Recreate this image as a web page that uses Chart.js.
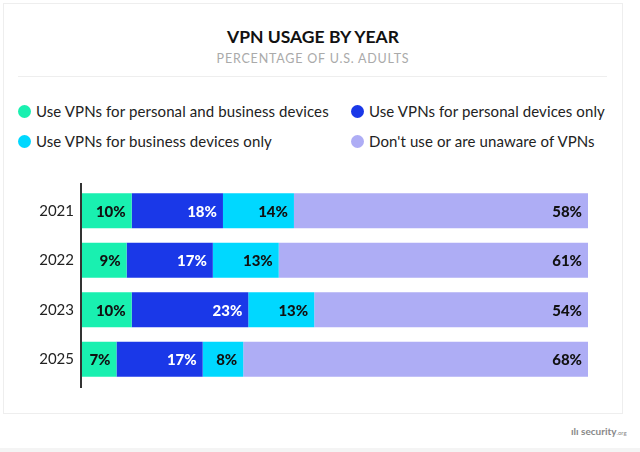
<!DOCTYPE html>
<html>
<head>
<meta charset="utf-8">
<script src="https://cdn.jsdelivr.net/npm/chart.js@4"></script>
<style>
  html, body { margin: 0; padding: 0; background: #fff; }
  body { width: 640px; height: 452px; position: relative; overflow: hidden; font-family: Lato, sans-serif; color: #222; }
  .card { position: absolute; left: 3px; top: 3px; width: 620px; height: 411px; border: 1px solid #eee; box-sizing: border-box; }
  .title { position: absolute; left: 0; width: 626px; top: 26px; text-align: center; font-size: 17.5px; font-weight: bold; color: #111; }
  .subtitle { position: absolute; left: 0; width: 626px; top: 51px; text-align: center; font-size: 12.5px; color: #aaa; letter-spacing: 0.8px; }
  .sep { position: absolute; left: 18px; width: 589px; top: 76px; height: 1px; background: #eee; }
  .leg { position: absolute; font-size: 15px; color: #222; white-space: nowrap; letter-spacing: 0.1px; }
  .leg i { display: inline-block; width: 13px; height: 13px; border-radius: 50%; vertical-align: -1px; margin-right: 5px; }
  .logo { position: absolute; left: 571px; top: 425px; font-size: 10px; font-weight: bold; color: #888; }
  .logo small { font-size: 6px; font-weight: normal; }
  .strip { position: absolute; left: 0; top: 448px; width: 640px; height: 4px; background: #f4f4f4; }
  #wrap { position: absolute; left: 0; top: 170px; width: 640px; height: 230px; }
</style>
</head>
<body>
<div class="card"></div>
<div class="title">VPN USAGE BY YEAR</div>
<div class="subtitle">PERCENTAGE OF U.S. ADULTS</div>
<div class="sep"></div>
<div id="legend"></div>
<div id="wrap"><canvas id="chart"></canvas></div>
<div class="logo">ılı security<small>.org</small></div>
<div class="strip"></div>
<script>
const years = ['2021', '2022', '2023', '2025'];
const seriesNames = [
  'Use VPNs for personal and business devices',
  'Use VPNs for personal devices only',
  'Use VPNs for business devices only',
  "Don't use or are unaware of VPNs"
];
const bothDevices = [10, 9, 10, 7];
const personalOnly = [18, 17, 23, 17];
const businessOnly = [14, 13, 13, 8];
const noVpn = [58, 61, 54, 68];
const colors = ['#19f0b0', '#1a38e8', '#00d8ff', '#aeadf5'];
const labelColors = ['#111', '#fff', '#111', '#111'];

// legend, 2x2 grid
const legendPos = [[18, 102], [351, 102], [18, 132], [351, 132]];
const legendEl = document.getElementById('legend');
seriesNames.forEach((name, i) => {
  const d = document.createElement('div');
  d.className = 'leg';
  d.style.left = legendPos[i][0] + 'px';
  d.style.top = legendPos[i][1] + 'px';
  d.innerHTML = '<i style="background:' + colors[i] + '"></i>' + name;
  legendEl.appendChild(d);
});

// value labels at the end of each segment
const endLabels = {
  id: 'endLabels',
  afterDatasetsDraw(chart) {
    const ctx = chart.ctx;
    ctx.save();
    ctx.font = '900 15px Lato, sans-serif';
    ctx.textAlign = 'right';
    ctx.textBaseline = 'middle';
    chart.data.datasets.forEach((ds, i) => {
      chart.getDatasetMeta(i).data.forEach((bar, j) => {
        ctx.fillStyle = labelColors[i];
        ctx.fillText(ds.data[j] + '%', bar.x - 6, bar.y + 1);
      });
    });
    ctx.restore();
  }
};

// y axis line, a bit taller than the plot area
const axisLine = {
  id: 'axisLine',
  afterDraw(chart) {
    const a = chart.chartArea, ctx = chart.ctx;
    ctx.save();
    ctx.strokeStyle = '#333';
    ctx.lineWidth = 2;
    ctx.beginPath();
    ctx.moveTo(a.left, a.top - 3);
    ctx.lineTo(a.left, a.bottom + 4);
    ctx.stroke();
    ctx.restore();
  }
};

new Chart(document.getElementById('chart'), {
  type: 'bar',
  data: {
    labels: years,
    datasets: [bothDevices, personalOnly, businessOnly, noVpn].map((d, i) => ({
      label: seriesNames[i],
      data: d,
      backgroundColor: colors[i],
      borderWidth: 0,
      barPercentage: 1,
      categoryPercentage: 0.71
    }))
  },
  options: {
    indexAxis: 'y',
    responsive: true,
    maintainAspectRatio: false,
    animation: false,
    layout: { padding: { top: 10.5, bottom: 11.5, left: 0, right: 52 } },
    plugins: { legend: { display: false }, tooltip: { enabled: false } },
    scales: {
      x: { stacked: true, min: 0, max: 100, display: false },
      y: {
        stacked: true,
        grid: { display: false, drawTicks: false },
        border: { display: false },
        ticks: { color: '#222', font: { family: 'Lato', size: 15 }, padding: 7 },
        afterFit(scale) { scale.width = 81; }
      }
    }
  },
  plugins: [endLabels, axisLine]
});
</script>
</body>
</html>
